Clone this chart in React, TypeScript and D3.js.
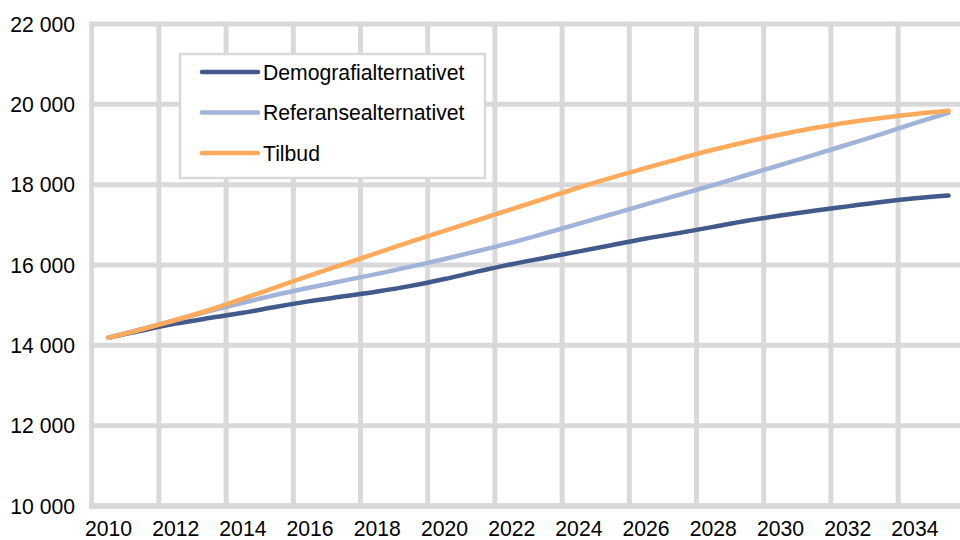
import React from "react";
import * as d3 from "d3";

const years = d3.range(2010, 2036);
const demografi = [14190, 14370, 14540, 14680, 14810, 14960, 15100, 15220, 15340, 15480, 15650, 15840, 16020, 16180, 16340, 16500, 16660, 16800, 16950, 17100, 17230, 17350, 17460, 17570, 17660, 17730];
const referanse = [14190, 14410, 14630, 14850, 15060, 15260, 15440, 15610, 15780, 15960, 16150, 16350, 16560, 16790, 17030, 17270, 17510, 17750, 17990, 18240, 18490, 18740, 19000, 19260, 19530, 19790];
const tilbud = [14190, 14400, 14630, 14880, 15160, 15450, 15740, 16020, 16300, 16580, 16850, 17120, 17390, 17660, 17930, 18180, 18420, 18650, 18870, 19070, 19250, 19410, 19550, 19660, 19760, 19840];
const yTicks = [10000, 12000, 14000, 16000, 18000, 20000, 22000];
const seriesNames = ["Demografialternativet", "Referansealternativet", "Tilbud"];
const seriesColors = ["#41598b", "#a0b3d9", "#ffaa5a"];

export default function App() {
  const W = 960, H = 540;
  const left = 91.7, right = 965.3, top = 24, bottom = 506;
  const x = d3.scaleBand<number>().domain(years).range([left, right]).padding(0);
  const bw = x.bandwidth();
  const cx = (yr: number) => (x(yr) as number) + bw / 2;
  const y = d3.scaleLinear().domain([10000, 22000]).range([bottom, top]);
  const font = "'Liberation Sans', Arial, sans-serif";
  const grid = "#d9d9d9";
  const all = [demografi, referanse, tilbud];
  const line = d3
    .line<number>()
    .x((_, i) => cx(years[i]))
    .y((v) => y(v))
    .curve(d3.curveCatmullRom.alpha(0.5));

  const boundaries = years.filter((_, i) => i % 2 === 0 && i > 0).map((yr) => x(yr) as number);
  const fs = 21.2;

  return (
    <svg width={W} height={H} style={{ position: "absolute", left: 0, top: 0, background: "#fff" }} fontFamily={font}>
      <rect x={0} y={0} width={W} height={H} fill="#fff" />
      {yTicks.map((t) => (
        <line key={"h" + t} x1={left - 2.5} x2={W} y1={y(t)} y2={y(t)} stroke={grid} strokeWidth={5} />
      ))}
      {boundaries.map((bx, i) => (
        <line key={"v" + i} x1={bx} x2={bx} y1={top - 2.5} y2={bottom} stroke={grid} strokeWidth={5} />
      ))}
      <line x1={left} x2={left} y1={top - 2.5} y2={bottom + 2.5} stroke={grid} strokeWidth={5} />
      <line x1={left - 2.5} x2={W} y1={bottom} y2={bottom} stroke={grid} strokeWidth={5.5} />
      {yTicks.map((t) => (
        <text key={"yl" + t} x={75} y={y(t)} dy="0.36em" textAnchor="end" fontSize={fs} fill="#000">
          {d3.format(",")(t).replace(",", " ")}
        </text>
      ))}
      {years.filter((_, i) => i % 2 === 0).map((yr) => (
        <text key={"xl" + yr} x={cx(yr)} y={536} textAnchor="middle" fontSize={fs} fill="#000">
          {yr}
        </text>
      ))}
      {all.map((s, i) => (
        <path key={"s" + i} d={line(s) as string} fill="none" stroke={seriesColors[i]} strokeWidth={4.5} strokeLinecap="round" strokeLinejoin="round" />
      ))}
      <rect x={180} y={54} width={305} height={124} fill="#fff" stroke={grid} strokeWidth={2.5} />
      {seriesNames.map((n, i) => (
        <g key={"lg" + i} transform={`translate(0, ${72 + i * 40.5})`}>
          <line x1={202} x2={258} y1={0} y2={0} stroke={seriesColors[i]} strokeWidth={4.5} strokeLinecap="round" />
          <text x={263} y={0} dy="0.36em" fontSize={fs} fill="#000">
            {n}
          </text>
        </g>
      ))}
    </svg>
  );
}
